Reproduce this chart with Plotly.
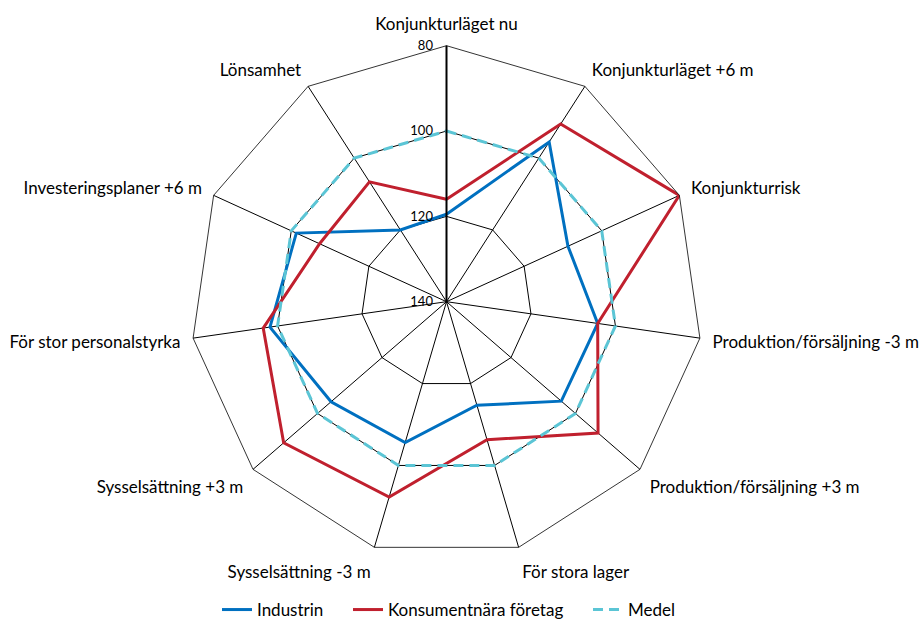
import plotly.graph_objects as go

categories = [
    "Konjunkturläget nu",
    "Konjunkturläget +6 m",
    "Konjunkturrisk",
    "Produktion/försäljning -3 m",
    "Produktion/försäljning +3 m",
    "För stora lager",
    "Sysselsättning -3 m",
    "Sysselsättning +3 m",
    "För stor personalstyrka",
    "Investeringsplaner +6 m",
    "Lönsamhet",
]

industrin = [119.5, 95.5, 108.7, 104.2, 104.4, 114.7, 105.6, 104.2, 98.2, 101.3, 120.0]
konsumentnara = [116.0, 90.5, 80.0, 104.2, 93.0, 106.3, 92.3, 89.5, 96.6, 107.3, 106.6]
medel = [100.0] * len(categories)

radial_ticks = [80, 100, 120, 140]

FONT = "Lato"
W, H = 919, 619


def closed(values):
    return values + values[:1]


theta = closed(categories)

series = [
    ("Industrin", industrin, dict(color="#0070C0", width=3), "legend", 217),
    ("Konsumentnära företag", konsumentnara, dict(color="#C0202E", width=3), "legend2", 348),
    ("Medel", medel, dict(color="#5BC5D5", width=3, dash="10px,6px"), "legend3", 588),
]

fig = go.Figure()
legends = {}
for name, values, line, leg, x_px in series:
    fig.add_trace(go.Scatterpolar(
        r=closed(values), theta=theta, mode="lines", name=name,
        line=line, legend=leg, showlegend=True,
    ))
    legends[leg] = dict(
        orientation="h",
        x=x_px / W,
        xanchor="left",
        y=1 - 610 / H,
        yanchor="middle",
        font=dict(size=17, family=FONT),
        bgcolor="rgba(0,0,0,0)",
        visible=True,
    )

fig.update_layout(
    width=W,
    height=H,
    showlegend=True,
    margin=dict(l=0, r=0, t=0, b=0, autoexpand=False),
    paper_bgcolor="white",
    plot_bgcolor="white",
    font=dict(family=FONT, size=17, color="black"),
    polar=dict(
        domain=dict(x=[190.5 / W, 702.5 / W], y=[1 - 557.7 / H, 1 - 45.7 / H]),
        gridshape="linear",
        bgcolor="white",
        radialaxis=dict(
            range=[140, 80],
            tickvals=radial_ticks,
            ticktext=[str(v) for v in radial_ticks],
            angle=90,
            tickangle=90,
            showline=True,
            linecolor="black",
            linewidth=2,
            gridcolor="black",
            gridwidth=0.8,
            ticks="outside",
            ticklen=8,
            tickcolor="rgba(0,0,0,0)",
            tickfont=dict(size=13, family=FONT),
            side="counterclockwise",
        ),
        angularaxis=dict(
            type="category",
            direction="clockwise",
            rotation=90,
            showline=True,
            linecolor="black",
            linewidth=0.8,
            gridcolor="black",
            gridwidth=0.8,
            ticks="outside",
            ticklen=9,
            tickcolor="rgba(0,0,0,0)",
            tickfont=dict(size=17, family=FONT),
        ),
    ),
    **legends,
)

fig.write_html("out.html")
